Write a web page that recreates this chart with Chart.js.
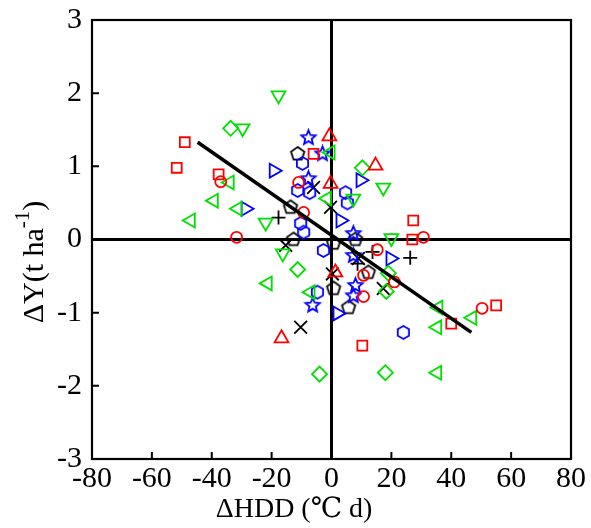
<!DOCTYPE html>
<html lang="en">
<head>
<meta charset="UTF-8">
<title>ΔY vs ΔHDD</title>
<script src="https://cdn.jsdelivr.net/npm/chart.js"></script>
<style>
    body { margin: 0; background: #ffffff; }
    .chart-container { width: 591px; height: 528px; }
</style>
</head>
<body>
<div class="chart-container"><canvas id="hddChart"></canvas></div>
<script>
// axis ticks
const xTicks = [-80, -60, -40, -20, 0, 20, 40, 60, 80];
const yTicks = [-3, -2, -1, 0, 1, 2, 3];

// [ΔHDD, ΔY] pairs per marker group
const redSquares = [[-49, 1.33], [-51.7, 0.98], [-37.7, 0.89], [-6, 1.17], [27.3, 0.26], [27, 0], [10.3, -1.45], [55, -0.9], [40, -1.15]];
const redCircles = [[-31.7, 0.03], [-37, 0.79], [30.7, 0.03], [50.3, -0.94], [-11, 0.78], [-9.3, 0.37], [15.3, -0.14], [10.7, -0.78], [10.7, -0.49], [21, -0.58]];
const redTriangles = [[-16.7, -1.35], [-0.7, 1.41], [14.7, 1.01], [-0.3, 0.76], [1.3, -0.45]];
const greenDown = [[-17.7, 1.97], [-29.7, 1.52], [17.3, 0.71], [20, 0.02], [-22, 0.23], [-16.3, -0.19], [7.3, 0.56]];
const greenLeft = [[-47, 0.26], [-39.3, 0.53], [-34, 0.78], [-31.3, 0.42], [-21.3, -0.6], [-0.3, 1.19], [-1.5, 0.56], [-7, -0.72], [35.7, -0.93], [35.3, -1.2], [47, -1.07], [35.3, -1.82]];
const greenDiamonds = [[-33.7, 1.52], [-11.3, -0.41], [-4, -1.84], [18, -1.82], [10.3, 0.98], [19, -0.46], [18.3, -0.71]];
const blueRight = [[-19.3, 0.94], [-28.7, 0.42], [9.7, 0.81], [3, 0.26], [19.7, -0.26], [2, -1.01]];
const blueHexagons = [[-9.7, 1.04], [-11.3, 0.67], [-7.3, 0.64], [4.7, 0.64], [5.3, 0.5], [-10.3, 0.22], [-9.3, 0.1], [-2.7, -0.15], [-4.7, -0.72], [24, -1.27]];
const blueStars = [[-7.7, 1.39], [-3, 1.17], [-7.7, 0.83], [-6.3, -0.9], [7.3, 0.08], [7.3, -0.22], [8, -0.63], [7.3, -0.77]];
const blackPentagons = [[-11.3, 1.17], [-13.7, 0.44], [-12.7, 0], [0.7, -0.05], [0.7, -0.67], [5.7, -0.93], [8, 0], [12.3, -0.45]];
const blackX = [[-10.3, -1.2], [-6, 0.71], [-0.3, 0.44], [0.3, -0.47], [9, -0.26], [17.3, -0.67], [-15.3, -0.08]];
const blackPlus = [[-17.7, 0.3], [13.7, -0.17], [26.3, -0.25], [8.7, -0.33]];
const fitLine = [[-44.7, 1.33], [46.7, -1.27]];

const RED = '#ff0000';
const GREEN = '#00e000';
const BLUE = '#0000ff';
const BLACK = '#000000';
const FONT = '"Liberation Serif", "Times New Roman", "DejaVu Serif", serif';

// outline polygon / star markers drawn into small canvases for pointStyle
function makeMarker(sides, radius, color, star) {
    const size = Math.ceil(radius * 2 + 4);
    const c = document.createElement('canvas');
    c.width = size;
    c.height = size;
    const g = c.getContext('2d');
    g.strokeStyle = color;
    g.lineWidth = 1.8;
    g.lineJoin = 'miter';
    g.beginPath();
    const n = star ? sides * 2 : sides;
    for (let i = 0; i < n; i++) {
        const r = star && i % 2 ? radius * 0.45 : radius;
        const a = -Math.PI / 2 + i * 2 * Math.PI / n;
        const px = size / 2 + r * Math.cos(a);
        const py = size / 2 + r * Math.sin(a);
        if (i === 0) g.moveTo(px, py); else g.lineTo(px, py);
    }
    g.closePath();
    g.stroke();
    return c;
}

const hexagon = makeMarker(6, 6.5, BLUE, false);
const pentagon = makeMarker(5, 7, BLACK, false);
const star5 = makeMarker(5, 7.5, BLUE, true);

function toPoints(pairs) {
    return pairs.map(p => ({ x: p[0], y: p[1] }));
}

function markerSet(pairs, color, style, radius, rotation) {
    return {
        data: toPoints(pairs),
        pointStyle: style,
        pointRadius: radius,
        pointRotation: rotation || 0,
        pointBorderColor: color,
        pointBackgroundColor: 'rgba(0,0,0,0)',
        pointBorderWidth: 1.8,
        showLine: false
    };
}

// frame, zero lines, inward ticks and axis titles
const frameAndTitles = {
    id: 'frameAndTitles',
    beforeDatasetsDraw(chart) {
        const { ctx, chartArea: a, scales: { x, y } } = chart;
        ctx.save();
        ctx.strokeStyle = BLACK;
        ctx.lineCap = 'butt';

        ctx.lineWidth = 3;
        const x0 = x.getPixelForValue(0);
        const y0 = y.getPixelForValue(0);
        ctx.beginPath();
        ctx.moveTo(x0, a.top); ctx.lineTo(x0, a.bottom);
        ctx.moveTo(a.left, y0); ctx.lineTo(a.right, y0);
        ctx.stroke();

        ctx.lineWidth = 2;
        ctx.beginPath();
        xTicks.forEach(v => {
            const px = x.getPixelForValue(v);
            ctx.moveTo(px, a.bottom); ctx.lineTo(px, a.bottom - 7);
        });
        yTicks.forEach(v => {
            const py = y.getPixelForValue(v);
            ctx.moveTo(a.left, py); ctx.lineTo(a.left + 7, py);
        });
        ctx.stroke();

        ctx.lineWidth = 2.2;
        ctx.strokeRect(a.left, a.top, a.right - a.left, a.bottom - a.top);
        ctx.restore();
    },
    afterDraw(chart) {
        const { ctx } = chart;
        ctx.save();
        ctx.fillStyle = BLACK;

        // x title
        ctx.font = '28px ' + FONT;
        ctx.textAlign = 'center';
        ctx.textBaseline = 'middle';
        ctx.fillText('ΔHDD (℃ d)', 294, 510);

        // y title with superscript
        ctx.translate(35, 262);
        ctx.rotate(-Math.PI / 2);
        const mainFont = '30px ' + FONT;
        const supFont = '21px ' + FONT;
        ctx.font = mainFont;
        const w1 = ctx.measureText('ΔY(t ha').width;
        const w3 = ctx.measureText(')').width;
        ctx.font = supFont;
        const w2 = ctx.measureText('-1').width;
        let sx = -(w1 + w2 + w3) / 2;
        ctx.textAlign = 'left';
        ctx.textBaseline = 'middle';
        ctx.font = mainFont;
        ctx.fillText('ΔY(t ha', sx, 0);
        sx += w1;
        ctx.font = supFont;
        ctx.fillText('-1', sx, -12);
        sx += w2;
        ctx.font = mainFont;
        ctx.fillText(')', sx, 0);
        ctx.restore();
    }
};

new Chart(document.getElementById('hddChart'), {
    type: 'scatter',
    data: {
        datasets: [
            {
                type: 'line',
                data: toPoints(fitLine),
                borderColor: BLACK,
                borderWidth: 3.5,
                pointRadius: 0,
                fill: false
            },
            markerSet(redSquares, RED, 'rect', 7),
            markerSet(redCircles, RED, 'circle', 5.5),
            markerSet(redTriangles, RED, 'triangle', 8),
            markerSet(greenDown, GREEN, 'triangle', 8, 180),
            markerSet(greenLeft, GREEN, 'triangle', 8, 270),
            markerSet(greenDiamonds, GREEN, 'rectRot', 7.5),
            markerSet(blueRight, BLUE, 'triangle', 8, 90),
            markerSet(blueHexagons, BLUE, hexagon, 7),
            markerSet(blueStars, BLUE, star5, 7),
            markerSet(blackPentagons, BLACK, pentagon, 7),
            markerSet(blackX, BLACK, 'crossRot', 9),
            markerSet(blackPlus, BLACK, 'cross', 7)
        ]
    },
    options: {
        responsive: true,
        maintainAspectRatio: false,
        animation: false,
        layout: { padding: { top: 20, right: 20, left: 0, bottom: 0 } },
        plugins: {
            legend: { display: false },
            tooltip: { enabled: false }
        },
        scales: {
            x: {
                type: 'linear',
                min: -80,
                max: 80,
                afterBuildTicks: s => { s.ticks = xTicks.map(v => ({ value: v })); },
                afterFit: s => { s.height = 69; },
                grid: { display: false, drawTicks: false },
                border: { display: false },
                ticks: {
                    padding: 2,
                    color: BLACK,
                    font: { family: FONT, size: 30 },
                    maxRotation: 0,
                    callback: v => String(v)
                }
            },
            y: {
                type: 'linear',
                min: -3,
                max: 3,
                afterBuildTicks: s => { s.ticks = yTicks.map(v => ({ value: v })); },
                afterFit: s => { s.width = 92; },
                grid: { display: false, drawTicks: false },
                border: { display: false },
                ticks: {
                    padding: 10,
                    color: BLACK,
                    font: { family: FONT, size: 30, lineHeight: 0.6 },
                    callback: v => String(v)
                }
            }
        }
    },
    plugins: [frameAndTitles]
});
</script>
</body>
</html>
